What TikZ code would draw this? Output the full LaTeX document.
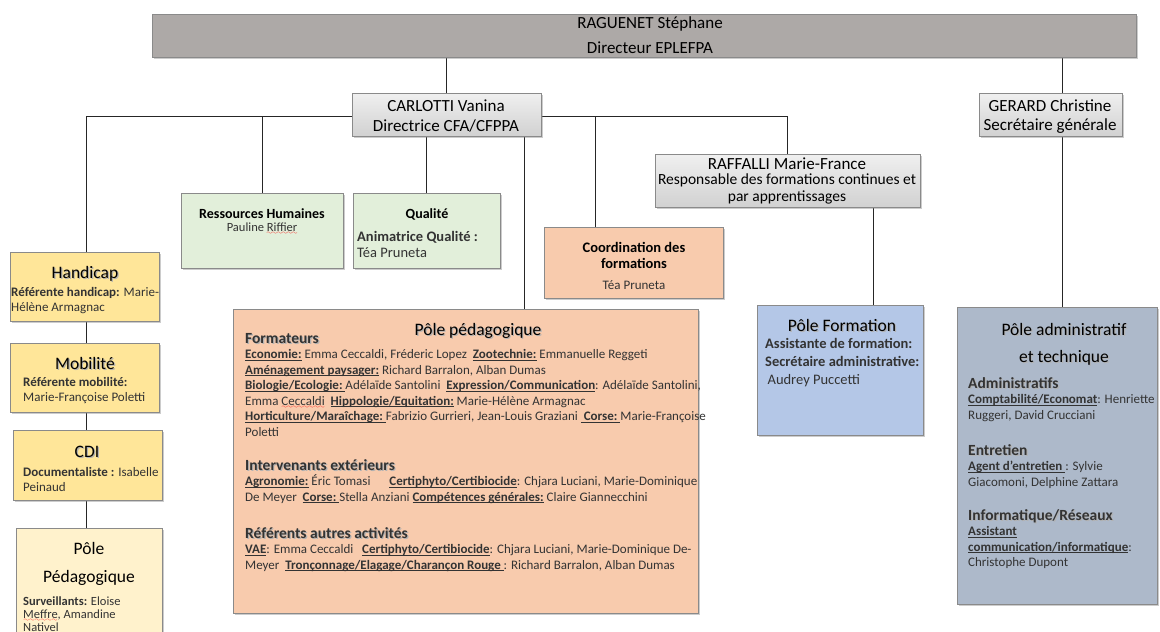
\documentclass[tikz,border=0pt]{standalone}
\usepackage{fontspec}
\setmainfont{Carlito}
\usepackage{tikz}
\usetikzlibrary{positioning,fit,shadows,backgrounds}
\definecolor{chiefgray}{HTML}{ADA9A7}
\definecolor{edgegray}{HTML}{8A8A8A}
\definecolor{rhgreen}{HTML}{E2EFDA}
\definecolor{pedapeach}{HTML}{F8CBAD}
\definecolor{refgold}{HTML}{FFE699}
\definecolor{survcream}{HTML}{FFF2CC}
\definecolor{formblue}{HTML}{B4C7E7}
\definecolor{adminblue}{HTML}{ADB9CA}
\definecolor{textgray}{HTML}{333333}
\newcommand{\bodyfont}{\fontsize{13}{15.5}\selectfont}
\newcommand{\headfont}{\fontsize{15.5}{15.5}\selectfont\bfseries}
\newcommand{\namefont}{\fontsize{17}{19.5}\selectfont}
\newcommand{\titlefont}{\fontsize{17.5}{20}\selectfont}
\font\wavefont=lasy6
\newcommand{\undl}[1]{\leavevmode\setbox0\hbox{#1}\rlap{\vrule width\wd0 height -1.3pt depth 2.1pt}\box0\relax}
\newcommand{\squig}[1]{\leavevmode\setbox0\hbox{#1}\rlap{\textcolor{red}{\lower3pt\hbox to\wd0{\xleaders\hbox{\wavefont\char58}\hfil}}}\box0\relax}
\newcommand{\shtext}[1]{\leavevmode\rlap{\kern1.2pt\raisebox{-1.2pt}{\textcolor{black!30}{#1}}}#1}

\begin{document}
\begin{tikzpicture}[x=1pt, y=-1pt,
    box/.style={draw=edgegray, line width=1pt, inner sep=0pt,
                drop shadow={shadow xshift=2pt, shadow yshift=-2pt, opacity=0.4}},
    namebox/.style={box, top color=white!94!black, bottom color=white!82!black},
    txt/.style={inner sep=0pt, font=\bodyfont, text=textgray, align=flush left},
    ctxt/.style={inner sep=0pt, align=flush center},
    link/.style={draw=black!85, line width=0.8pt},
]
\useasboundingbox (0,0) rectangle (1160,632);

% direction
\node[box, fill=chiefgray, fit={(152,14) (1136,57)}] (dir) {};
\node[ctxt, font=\namefont, anchor=base] (dir-name) at (650,28) {RAGUENET Stéphane};
\node[ctxt, font=\namefont, anchor=base] (dir-role) at (650,53) {Directeur EPLEFPA};

\node[namebox, fit={(352,93) (541,136)}] (carl) {};
\node[ctxt, font=\namefont, anchor=base] (carl-name) at (446,111) {CARLOTTI Vanina};
\node[ctxt, font=\namefont, anchor=base] (carl-role) at (446,131) {Directrice CFA/CFPPA};

\node[namebox, fit={(979,93) (1122,136)}] (ger) {};
\node[ctxt, font=\namefont, anchor=base] (ger-name) at (1050,111) {GERARD Christine};
\node[ctxt, font=\namefont, anchor=base] (ger-role) at (1050,130) {Secrétaire générale};

\node[namebox, fit={(655,154) (920,207)}] (raf) {};
\node[ctxt, font=\namefont, anchor=base] (raf-name) at (787,169) {RAFFALLI Marie-France};
\node[ctxt, font=\fontsize{15.5}{16.5}\selectfont, anchor=north] (raf-role) at (787,174)
    {Responsable des formations continues et\\par apprentissages};

% services
\node[box, fill=rhgreen, fit={(181,193) (343,268)}] (rh) {};
\node[ctxt, font=\fontsize{14}{16}\selectfont\bfseries, anchor=base] (rh-title) at (262,218) {Ressources Humaines};
\node[ctxt, font=\fontsize{12.5}{15}\selectfont, text=textgray, anchor=base] (rh-who) at (262,231) {Pauline \squig{Riffier}};

\node[box, fill=rhgreen, fit={(353,193) (500,268)}] (qual) {};
\node[ctxt, font=\fontsize{14}{16}\selectfont\bfseries, anchor=base] (qual-title) at (427,218) {Qualité};
\node[txt, font=\fontsize{14.5}{16}\selectfont, anchor=base west, text width=145pt] (qual-who) at (357,241)
    {\textbf{Animatrice Qualité :}\\Téa Pruneta};

\node[box, fill=pedapeach, fit={(544,227) (723,298)}] (coord) {};
\node[ctxt, font=\fontsize{14.5}{16}\selectfont\bfseries, anchor=base] (coord-title) at (634,268)
    {Coordination des\\formations};
\node[ctxt, font=\fontsize{13}{15}\selectfont, text=textgray, anchor=base] (coord-who) at (634,289) {Téa Pruneta};

% left column
\node[box, fill=refgold, fit={(10,252) (159,321)}] (hand) {};
\node[ctxt, font=\titlefont, anchor=base] (hand-title) at (85,278) {\shtext{Handicap}};
\node[txt, anchor=base west, text width=155pt] (hand-who) at (11,296)
    {\textbf{Référente handicap:} Marie-\\Hélène Armagnac};

\node[box, fill=refgold, fit={(10,343) (159,412)}] (mob) {};
\node[ctxt, font=\titlefont, anchor=base] (mob-title) at (85,369) {\shtext{Mobilité}};
\node[txt, anchor=base west, text width=145pt] (mob-who) at (23,386)
    {\textbf{Référente mobilité:}\\Marie-Françoise Poletti};

\node[box, fill=refgold, fit={(13,430) (162,500)}] (cdi) {};
\node[ctxt, font=\titlefont, anchor=base] (cdi-title) at (87,457) {\shtext{CDI}};
\node[txt, anchor=base west, text width=145pt] (cdi-who) at (23,476)
    {\textbf{Documentaliste :} Isabelle\\Peinaud};

\node[box, fill=survcream, fit={(16,528) (162,650)}] (surv) {};
\node[ctxt, font=\titlefont, anchor=base] (surv-title) at (89,582) {Pôle\\[8pt]Pédagogique};
\node[txt, font=\fontsize{12.5}{13}\selectfont, anchor=base west, text width=140pt] (surv-who) at (23,605)
    {\textbf{Surveillants:} Eloise\\\squig{Meffre}, Amandine\\Nativel};

% pole pedagogique
\node[box, fill=pedapeach, fit={(233,309) (698,613)}] (pp) {};
\node[ctxt, font=\titlefont, anchor=base] (pp-title) at (478,335) {\shtext{Pôle pédagogique}};
\node[txt, anchor=base west, text width=490pt] (pp-form) at (245,343) {%
{\headfont\shtext{Formateurs}}\\
\undl{\textbf{Economie:}} Emma Ceccaldi, Fréderic Lopez\ \ \undl{\textbf{Zootechnie:}} Emmanuelle Reggeti\\
\undl{\textbf{Aménagement paysager:}} Richard Barralon, Alban Dumas\\
\undl{\textbf{Biologie/Ecologie:}\ }Adélaïde Santolini\ \ \undl{\textbf{Expression/Communication}}: Adélaïde Santolini,\\
Emma \squig{Ceccaldi}\ \ \undl{\textbf{Hippologie/Equitation:}} Marie-Hélène Armagnac\\
\undl{\textbf{Horticulture/Maraîchage:}\ }Fabrizio Gurrieri, Jean-Louis Graziani \undl{\ \textbf{Corse:}\ }Marie-Françoise\\
Poletti};
\node[txt, anchor=base west, text width=490pt] (pp-ext) at (245,470) {%
{\headfont\shtext{Intervenants extérieurs}}\\
\undl{\textbf{Agronomie:}} Éric Tomasi\quad\ \ \undl{\textbf{Certiphyto/Certibiocide}}: Chjara Luciani, Marie-Dominique\\
De Meyer\ \ \undl{\textbf{Corse:}\ }Stella Anziani \undl{\textbf{Compétences générales:}} Claire Giannecchini};
\node[txt, anchor=base west, text width=490pt] (pp-ref) at (245,538) {%
{\headfont\shtext{Référents autres activités}}\\
\undl{\textbf{VAE}}: Emma Ceccaldi\ \ \ \undl{\textbf{Certiphyto/Certibiocide}}: Chjara Luciani, Marie-Dominique De-\\
Meyer\ \ \undl{\textbf{Tronçonnage/Elagage/Charançon Rouge}\ }: Richard Barralon, Alban Dumas};

% pole formation
\node[box, fill=formblue, fit={(757,305) (923,435)}] (form) {};
\node[ctxt, font=\titlefont, anchor=base] (form-title) at (842,331) {\shtext{Pôle Formation}};
\node[txt, font=\fontsize{14.5}{18}\selectfont, anchor=base west, text width=170pt] (form-who) at (765,348)
    {\textbf{Assistante de formation:}\\\textbf{Secrétaire administrative:}\\\,Audrey Puccetti};

% pole administratif
\node[box, fill=adminblue, fit={(957,307) (1157,604)}] (admin) {};
\node[ctxt, font=\titlefont, anchor=base] (admin-title) at (1064,362)
    {\shtext{Pôle administratif}\\[7pt]\shtext{et technique}};
\node[txt, anchor=base west, text width=205pt] (admin-adm) at (968,388) {%
{\headfont\shtext{Administratifs}}\\
\undl{\textbf{Comptabilité/Economat}}: Henriette\\
Ruggeri, David Crucciani};
\node[txt, anchor=base west, text width=205pt] (admin-ent) at (968,455) {%
{\headfont\shtext{Entretien}}\\
\undl{\textbf{Agent d’entretien}\ }: Sylvie\\
Giacomoni, Delphine Zattara};
\node[txt, anchor=base west, text width=205pt] (admin-info) at (968,520) {%
{\headfont\shtext{Informatique/Réseaux}}\\
\undl{\textbf{Assistant}}\\
\undl{\textbf{communication/informatique}}:\\
Christophe Dupont};

% links
\coordinate (bus) at (0,116);
\coordinate (col-link) at (86,0);
\coordinate (pp-link) at (524,0);
\coordinate (coord-link) at (595,0);
\coordinate (form-link) at (873,0);
\coordinate (ger-link) at (1062,0);
\begin{scope}[on background layer]
\draw[link] (dir.south -| carl.north) -- (carl.north);
\draw[link] (hand.north -| col-link) |- (raf.north |- bus) -- (raf.north);
\draw[link] (rh.north) -- (rh.north |- bus);
\draw[link] (qual.north) -- (qual.north |- carl.south);
\draw[link] (carl.south -| pp-link) -- (pp.north -| pp-link);
\draw[link] (coord-link |- bus) -- (coord.north -| coord-link);
\draw[link] (raf.south -| form-link) -- (form.north -| form-link);
\draw[link] (dir.south -| ger-link) -- (ger.north -| ger-link);
\draw[link] (ger.south -| ger-link) -- (admin.north -| ger-link);
\draw[link] (hand.south -| col-link) -- (mob.north -| col-link);
\draw[link] (mob.south -| col-link) -- (cdi.north -| col-link);
\draw[link] (cdi.south -| col-link) -- (surv.north -| col-link);
\end{scope}
\end{tikzpicture}
\end{document}
